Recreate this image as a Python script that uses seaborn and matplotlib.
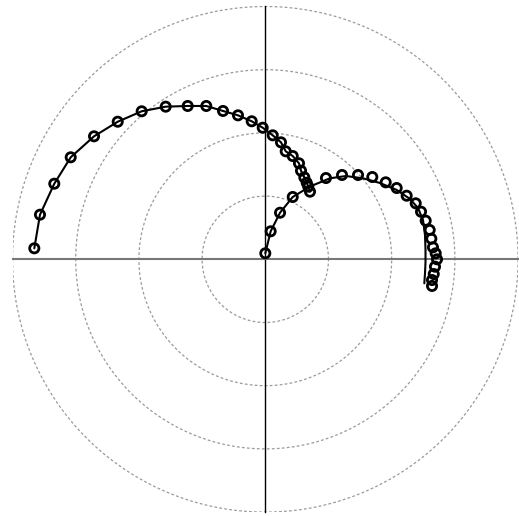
# Polar-style response plot: two measured series (open circles) with their curves

import numpy as np
import pandas as pd
import matplotlib
matplotlib.use("Agg")
import matplotlib.pyplot as plt
import seaborn as sns

# --- data (x, y in plot units) ---
s1_x = [-3.655, -3.565, -3.339, -3.079, -2.710, -2.335, -1.956, -1.576, -1.228, -0.934,
        -0.669, -0.432, -0.215, -0.041, 0.117, 0.248, 0.323, 0.434, 0.533, 0.565,
        0.617, 0.655, 0.680, 0.707]
s1_y = [0.174, 0.706, 1.196, 1.614, 1.946, 2.177, 2.342, 2.415, 2.426, 2.426,
        2.347, 2.278, 2.184, 2.082, 1.962, 1.851, 1.709, 1.634, 1.519, 1.402,
        1.297, 1.212, 1.149, 1.070]

s2_x = [0.000, 0.085, 0.233, 0.434, 0.960, 1.214, 1.467, 1.693, 1.905, 2.079,
        2.237, 2.380, 2.464, 2.538, 2.601, 2.627, 2.653, 2.696, 2.717, 2.685,
        2.665, 2.638, 2.638]
s2_y = [0.095, 0.443, 0.737, 0.986, 1.286, 1.334, 1.334, 1.302, 1.218, 1.128,
        1.006, 0.886, 0.753, 0.611, 0.464, 0.326, 0.190, 0.095, 0.000, -0.117,
        -0.233, -0.328, -0.422]

# fitted curve for series 2
fit2_x = [0.000, 0.085, 0.233, 0.434, 0.707, 1.024, 1.277, 1.551, 1.815, 2.079,
          2.290, 2.416, 2.495, 2.527, 2.535, 2.535, 2.527, 2.516]
fit2_y = [0.095, 0.443, 0.737, 0.986, 1.152, 1.282, 1.318, 1.280, 1.207, 1.097,
          0.954, 0.812, 0.622, 0.384, 0.147, -0.043, -0.222, -0.380]

ring_radii = [1, 2, 3, 4]
tick_pos = [-4, -3, -2, -1, 0, 1, 2, 3, 4]

df1 = pd.DataFrame({"x": s1_x, "y": s1_y})
df2 = pd.DataFrame({"x": s2_x, "y": s2_y})
fit2 = pd.DataFrame({"x": fit2_x, "y": fit2_y})

sns.set_style("white")
plt.rcParams["font.family"] = ["DejaVu Sans"]

fig = plt.figure(figsize=(5.19, 5.16), dpi=100)
ax = fig.add_axes([12.5 / 519, 3.9 / 516, 505.6 / 519, 505.6 / 516])

# dotted rings
theta = np.linspace(0, 2 * np.pi, 400)
for r in ring_radii:
    ax.plot(r * np.cos(theta), r * np.sin(theta), color="#9a9a9a",
            linestyle=(0, (2.2, 1.8)), linewidth=0.9, zorder=1)

# curves
sns.lineplot(data=df1, x="x", y="y", sort=False, color="black", linewidth=1.5,
             ax=ax, zorder=3, estimator=None)
sns.lineplot(data=fit2, x="x", y="y", sort=False, color="black", linewidth=1.5,
             ax=ax, zorder=3, estimator=None)

# markers
for d in (df1, df2):
    sns.scatterplot(data=d, x="x", y="y", marker="o", s=44, facecolor="none",
                    edgecolor="black", linewidth=2.0, ax=ax, zorder=4)

ax.set_xlim(-4, 4)
ax.set_ylim(-4, 4)
ax.set_aspect("equal")

# axes through the origin
for side in ("top", "right"):
    ax.spines[side].set_visible(False)
ax.spines["bottom"].set_position(("data", 0))
ax.spines["left"].set_position(("data", 0))
ax.spines["bottom"].set_color("#777777")
ax.spines["bottom"].set_linewidth(1.5)
ax.spines["left"].set_color("black")
ax.spines["left"].set_linewidth(1.0)
ax.set_xticks(tick_pos)
ax.set_xticklabels([])
ax.set_yticks([])
ax.tick_params(axis="x", direction="out", length=2, width=0.8, color="#555555")
ax.set_xlabel("")
ax.set_ylabel("")
ax.patch.set_alpha(0)

fig.savefig("out.png", dpi=100)
